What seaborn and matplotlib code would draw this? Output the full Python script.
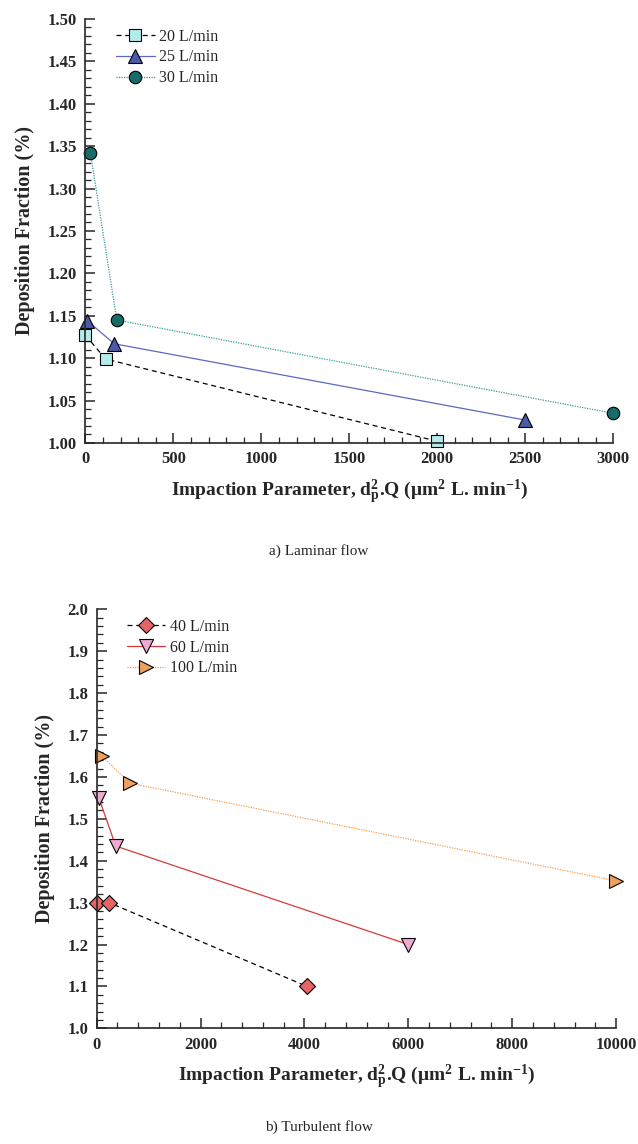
import matplotlib
matplotlib.use("Agg")
import matplotlib.pyplot as plt
import seaborn as sns
from matplotlib.ticker import MultipleLocator, FormatStrFormatter

# Laminar flow data
lam_20_x = [0, 114, 2000]
lam_20_y = [1.127, 1.099, 1.002]
lam_25_x = [11, 163, 2500]
lam_25_y = [1.144, 1.117, 1.027]
lam_30_x = [28, 178, 3000]
lam_30_y = [1.342, 1.145, 1.035]

# Turbulent flow data
tur_40_x = [10, 237, 4050]
tur_40_y = [1.30, 1.30, 1.10]
tur_60_x = [44, 366, 6000]
tur_60_y = [1.549, 1.435, 1.20]
tur_100_x = [96, 641, 10000]
tur_100_y = [1.65, 1.585, 1.352]

sns.set_style("ticks")
plt.rcParams["font.family"] = ["Liberation Serif", "DejaVu Serif"]
plt.rcParams["mathtext.fontset"] = "custom"
plt.rcParams["mathtext.rm"] = "Liberation Serif:bold"
plt.rcParams["mathtext.bf"] = "Liberation Serif:bold"
plt.rcParams["mathtext.it"] = "Liberation Serif:bold"

fig = plt.figure(figsize=(6.38, 11.44), dpi=100)
ax1 = fig.add_axes([0.134, 0.6128, 0.827, 0.3706])
ax2 = fig.add_axes([0.1516, 0.1011, 0.814, 0.3663])

xlabel = r"Impaction Parameter, d$_\mathrm{p}^\mathrm{2}$.Q (μm$^\mathrm{2}$ L. min$^\mathrm{-1}$)"


def draw(ax, x, y, label, marker, face, lcolor, ls, ms):
    sns.lineplot(x=x, y=y, ax=ax, label=label, color=lcolor, linestyle=ls,
                 linewidth=0.9, marker=marker, markersize=ms,
                 markerfacecolor=face, markeredgecolor="black",
                 markeredgewidth=0.8, sort=False, clip_on=False)


draw(ax1, lam_20_x, lam_20_y, "20 L/min", "s", "#b4ecea", "black", (0, (4, 3)), 8)
draw(ax1, lam_25_x, lam_25_y, "25 L/min", "^", "#4a5aa6", "#5a68c0", "-", 10)
draw(ax1, lam_30_x, lam_30_y, "30 L/min", "o", "#176b68", "#3a9c9a", (0, (1, 1)), 9)

draw(ax2, tur_40_x, tur_40_y, "40 L/min", "D", "#e86464", "black", (0, (4, 3)), 8)
draw(ax2, tur_60_x, tur_60_y, "60 L/min", "v", "#eeaad2", "#d83838", "-", 10)
draw(ax2, tur_100_x, tur_100_y, "100 L/min", ">", "#eea05e", "#f5a050", (0, (1, 1)), 10)

ax1.set_xlim(0, 3000)
ax1.set_ylim(1.0, 1.5)
ax1.xaxis.set_major_locator(MultipleLocator(500))
ax1.xaxis.set_minor_locator(MultipleLocator(100))
ax1.yaxis.set_major_locator(MultipleLocator(0.05))
ax1.yaxis.set_minor_locator(MultipleLocator(0.01))
ax1.yaxis.set_major_formatter(FormatStrFormatter("%.2f"))

ax2.set_xlim(0, 10000)
ax2.set_ylim(1.0, 2.0)
ax2.xaxis.set_major_locator(MultipleLocator(2000))
ax2.xaxis.set_minor_locator(MultipleLocator(400))
ax2.yaxis.set_major_locator(MultipleLocator(0.1))
ax2.yaxis.set_minor_locator(MultipleLocator(0.02))
ax2.yaxis.set_major_formatter(FormatStrFormatter("%.1f"))

for ax in (ax1, ax2):
    sns.despine(ax=ax)
    ax.spines["left"].set_linewidth(1.2)
    ax.spines["bottom"].set_linewidth(1.2)
    ax.tick_params(which="major", direction="in", length=7, width=1.1,
                   labelsize=12, pad=6)
    ax.tick_params(which="minor", direction="in", length=4, width=0.9)
    for t in ax.get_xticklabels() + ax.get_yticklabels():
        t.set_fontweight("bold")
    ax.set_xlabel(xlabel, fontsize=14, fontweight="bold", labelpad=7)
    ax.set_ylabel("Deposition Fraction (%)", fontsize=14.5, fontweight="bold",
                  labelpad=9)
    ax.grid(False)
    ax.legend(loc="upper left", frameon=False, fontsize=11.5, handlelength=2.4,
              handletextpad=0.3, labelspacing=0.3,
              bbox_to_anchor=(0.04, 1.0), borderaxespad=0.2)

fig.text(0.5, 1 - 551 / 1144, "a) Laminar flow", ha="center", va="center",
         fontsize=11)
fig.text(0.5, 1 - 1127 / 1144, "b) Turbulent flow", ha="center", va="center",
         fontsize=11)

fig.savefig("out.png", dpi=100)
